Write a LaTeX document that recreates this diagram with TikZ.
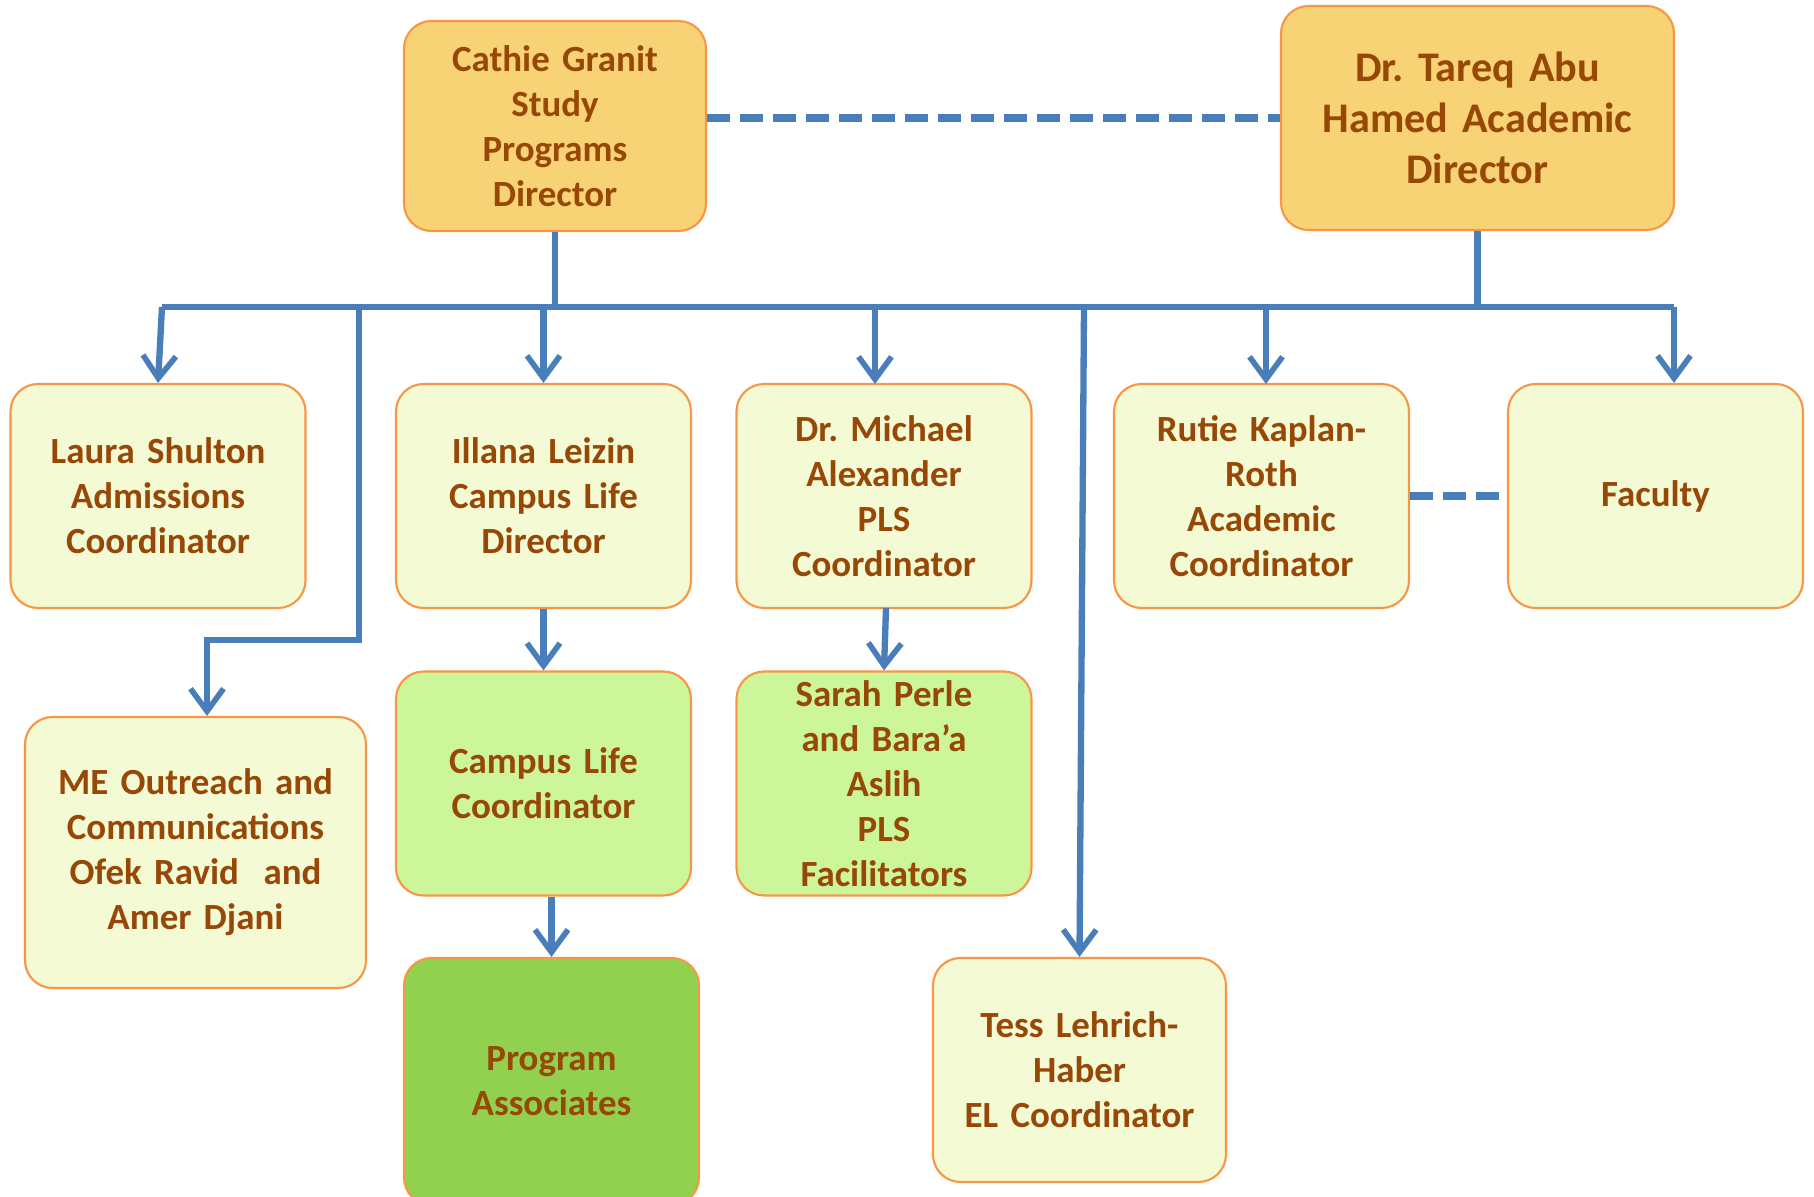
\documentclass[tikz,border=0pt]{standalone}
\usepackage{fontspec}
\setmainfont{Carlito}
\usetikzlibrary{arrows.meta}
\frenchspacing

\definecolor{topfill}{RGB}{247,211,117}
\definecolor{lightfill}{RGB}{243,250,212}
\definecolor{midgreen}{RGB}{205,245,153}
\definecolor{darkgreen}{RGB}{146,208,80}
\definecolor{edgeorange}{RGB}{247,150,70}
\definecolor{namebrown}{RGB}{151,71,6}
\definecolor{linkblue}{RGB}{74,126,187}

\tikzset{
  box/.style={draw=edgeorange, line width=1.2pt, rounded corners=0.55cm,
    minimum width=5.9cm, minimum height=4.48cm, text width=5.5cm, align=center,
    text=namebrown, font=\fontsize{21}{25.6}\selectfont\bfseries, fill=lightfill},
  topbox/.style={box, fill=topfill},
  greenbox/.style={box, fill=midgreen},
  darkbox/.style={box, fill=darkgreen},
  link/.style={draw=linkblue, line width=3.6pt},
  linkarrow/.style={link, -{Straight Barb[length=0.45cm, width=0.66cm, line width=3.2pt]}},
  dotlink/.style={link, line width=4pt, dash pattern=on 0.46cm off 0.2cm}
}

\begin{document}
\begin{tikzpicture}
\useasboundingbox (0,0) rectangle (36.28,-23.94);
            % Directors
            \node[topbox, minimum width=6.04cm, minimum height=4.2cm] (cathie) at (11.10, -2.52) {Cathie Granit\\Study\\Programs\\Director};
            \node[topbox, minimum width=7.86cm, text width=7.2cm, font=\fontsize{24}{29}\selectfont\bfseries] (tareq) at (29.55, -2.36) {Dr. Tareq Abu\\Hamed Academic\\Director};

            % First row
            \node[box] (laura) at (3.16, -9.92) {Laura Shulton\\Admissions\\Coordinator};
            \node[box] (illana) at (10.87, -9.92) {Illana Leizin\\Campus Life\\Director};
            \node[box] (michael) at (17.68, -9.92) {Dr. Michael\\Alexander\\PLS\\Coordinator};
            \node[box] (rutie) at (25.23, -9.92) {Rutie Kaplan-\\Roth\\Academic\\Coordinator};
            \node[box] (faculty) at (33.11, -9.92) {Faculty};

            % Lower rows
            \node[box, minimum width=6.82cm, minimum height=5.42cm, text width=6.4cm] (me) at (3.91, -17.05) {ME Outreach and\\Communications\\Ofek Ravid~~and\\Amer Djani};
            \node[greenbox] (campus) at (10.87, -15.67) {Campus Life\\Coordinator};
            \node[greenbox] (sarah) at (17.68, -15.67) {Sarah Perle\\and Bara’a\\Aslih\\PLS\\Facilitators};
            \node[darkbox, minimum height=4.94cm] (program) at (11.03, -21.63) {Program\\Associates};
            \node[box, minimum width=5.86cm] (tess) at (21.59, -21.4) {Tess Lehrich-\\Haber\\EL Coordinator};

            % Bus line
            \coordinate (busL) at (3.24, -6.14);
            \coordinate (busR) at (33.48, -6.14);
            \coordinate (meTurn) at (4.14, -12.8);
            \draw[link] (busL) -- (busR);
            \draw[link] (cathie.south) -- (cathie.south |- busL);
            \draw[link] (tareq.south) -- (tareq.south |- busL);

            % Arrows from the bus
            \draw[linkarrow] (busL) -- (laura.north);
            \draw[linkarrow] (7.18, -6.14) |- (meTurn) -- (meTurn |- me.north);
            \draw[linkarrow] (illana.north |- busL) -- (illana.north);
            \draw[linkarrow] (17.5, -6.14) -- (17.5, -7.68);
            \draw[linkarrow] (21.68, -6.14) -- (tess.north);
            \draw[linkarrow] (25.32, -6.14) -- (25.32, -7.68);
            \draw[linkarrow] (busR) -- (busR |- faculty.north);

            % Second level
            \draw[linkarrow] (illana.south) -- (campus.north);
            \draw[linkarrow] (17.72, -12.16) -- (sarah.north);
            \draw[linkarrow] (campus.south -| program.north) -- (program.north);

            % Dotted relations
            \draw[dotlink] (cathie.east |- tareq.west) -- (tareq.west);
            \draw[dotlink] (rutie.east) -- (faculty.west);
\end{tikzpicture}
\end{document}
